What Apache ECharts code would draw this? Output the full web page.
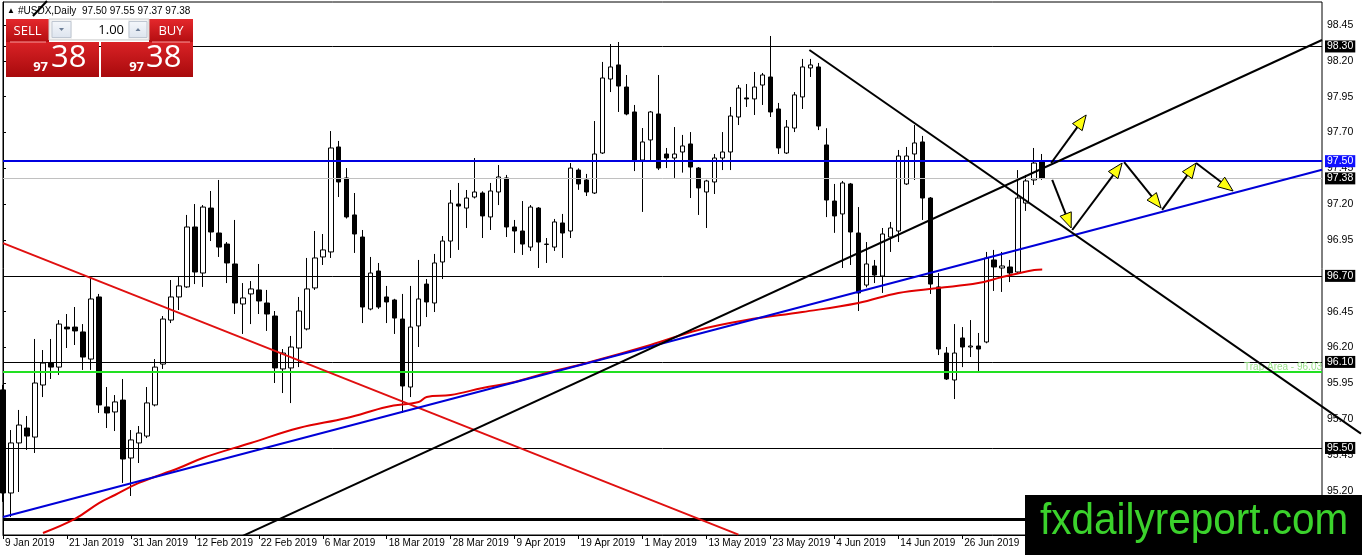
<!DOCTYPE html>
<html><head><meta charset="utf-8">
<script src="https://cdn.jsdelivr.net/npm/echarts@6/dist/echarts.min.js"></script>
<style>html,body{margin:0;padding:0;background:#fff;}#c{width:1362px;height:555px;}</style>
</head><body><div id="c"></div>
<script>
// ---------- DATA ----------
const symbolTitle = '#USDX,Daily  97.50 97.55 97.37 97.38';
const slotCount = 166; // bars + empty right shift
const monthNames = ['Jan','Feb','Mar','Apr','May','Jun','Jul','Aug','Sep','Oct','Nov','Dec'];
const dates = [];
(function(){ const d = new Date(Date.UTC(2019,0,9));
  while (dates.length < slotCount) { const wd = d.getUTCDay();
    if (wd !== 0 && wd !== 6) dates.push(d.getUTCDate()+' '+monthNames[d.getUTCMonth()]+' '+d.getUTCFullYear());
    d.setUTCDate(d.getUTCDate()+1); } })();

const opens = [95.905,95.186,95.535,95.639,95.576,95.939,96.092,96.064,96.343,96.343,96.309,96.120,96.553,95.786,95.751,95.834,95.430,95.535,95.583,95.800,
96.085,96.392,96.553,96.623,97.041,96.720,97.173,96.999,96.922,96.783,96.504,96.574,96.602,96.511,96.420,96.051,96.058,96.197,96.330,96.616,
96.832,96.867,97.599,97.383,97.125,96.971,96.469,96.734,96.553,96.532,96.399,95.925,96.351,96.643,96.511,96.797,96.943,97.201,97.173,97.250,
97.278,97.111,97.285,97.383,97.041,97.013,96.901,97.173,96.919,96.901,97.069,97.013,97.438,97.369,97.278,97.557,98.073,98.171,98.017,97.843,
97.508,97.648,97.829,97.550,97.522,97.564,97.620,97.452,97.285,97.355,97.522,97.564,97.808,97.941,97.934,98.031,98.087,97.864,97.557,97.731,
97.948,98.150,98.157,97.613,97.222,97.132,97.341,96.999,96.636,96.769,96.699,96.971,97.013,97.341,97.550,97.634,97.243,96.623,96.162,95.974,
96.267,96.204,96.211,96.239,96.811,96.755,96.762,96.727,97.208,97.369,97.50];
const closes = [95.186,95.535,95.660,95.583,95.953,96.092,96.064,96.364,96.330,96.316,96.134,96.539,95.800,95.744,95.821,95.423,95.556,95.604,95.814,96.064,
96.399,96.553,96.630,97.041,96.727,97.180,97.006,96.901,96.790,96.511,96.546,96.609,96.525,96.434,96.058,96.162,96.204,96.455,96.609,96.825,
96.881,97.592,97.355,97.111,96.992,96.483,96.720,96.483,96.518,96.406,95.932,96.343,96.539,96.518,96.790,96.943,97.208,97.187,97.243,97.285,
97.118,97.292,97.390,97.041,97.013,96.922,97.180,96.936,96.922,97.076,96.999,97.452,97.341,97.285,97.550,98.080,98.157,98.024,97.829,97.508,
97.634,97.843,97.452,97.522,97.550,97.606,97.459,97.313,97.362,97.522,97.564,97.815,98.010,97.934,98.017,98.101,97.843,97.592,97.738,97.962,
98.157,98.171,97.745,97.229,97.118,97.348,97.006,96.581,96.783,96.706,96.992,97.034,97.536,97.536,97.627,97.243,96.643,96.190,95.981,96.162,
96.204,96.211,96.190,96.825,96.762,96.769,96.720,97.243,97.362,97.487,97.38];
const lows = [95.124,95.018,95.193,95.486,95.465,95.855,95.981,96.009,96.197,96.218,96.044,96.044,95.744,95.639,95.618,95.256,95.165,95.395,95.569,95.790,
96.051,96.371,96.462,96.616,96.643,96.623,96.943,96.832,96.650,96.434,96.295,96.364,96.434,96.316,95.953,95.883,95.813,96.064,96.320,96.602,
96.776,96.825,97.250,97.100,96.860,96.371,96.460,96.470,96.371,96.295,95.744,95.855,96.204,96.413,96.448,96.678,96.825,96.881,97.034,97.240,
96.964,97.020,97.194,96.971,96.860,96.846,96.874,96.755,96.790,96.874,96.825,96.964,97.300,97.257,97.271,97.550,97.982,97.843,97.820,97.431,
97.146,97.508,97.438,97.452,97.383,97.420,97.243,97.125,97.034,97.271,97.438,97.438,97.752,97.878,97.822,97.892,97.808,97.550,97.550,97.703,
97.864,98.087,97.717,97.110,97.000,96.755,96.776,96.455,96.620,96.650,96.581,96.867,96.936,97.334,97.369,97.090,96.574,96.148,95.974,95.841,
96.064,96.134,96.023,96.230,96.595,96.588,96.657,96.720,97.153,97.334,97.37];
const highs = [95.940,95.625,95.765,95.723,96.260,96.183,96.260,96.392,96.434,96.483,96.364,96.685,96.574,95.925,95.869,95.981,95.625,95.653,95.925,96.120,
96.420,96.671,96.692,97.125,97.201,97.194,97.292,97.369,96.936,97.090,96.650,96.664,96.783,96.602,96.455,96.190,96.281,96.553,96.825,97.013,
96.992,97.710,97.641,97.452,97.278,97.020,96.832,96.790,96.630,96.540,96.574,96.630,96.811,96.678,96.853,96.978,97.299,97.348,97.299,97.522,
97.290,97.348,97.473,97.404,97.090,97.222,97.194,97.180,96.964,97.097,97.132,97.487,97.450,97.411,97.780,98.192,98.317,98.331,98.101,97.892,
97.731,97.850,98.101,97.592,97.738,97.683,97.703,97.459,97.370,97.550,97.703,97.878,98.031,98.038,98.122,98.115,98.373,97.906,97.787,97.982,
98.213,98.213,98.185,97.730,97.341,97.362,97.348,97.180,96.936,96.811,97.034,97.076,97.578,97.599,97.752,97.676,97.250,96.720,96.204,96.364,
96.343,96.392,96.302,96.867,96.881,96.867,96.811,97.438,97.404,97.592,97.55];

// moving average (red curve) read at bar indexes
const maIndex = [5,9,12,14,17,22,25,31,37,43,48,52,53,56,60,64,68,73,81,87,93,100,107,112,117,122,125,129,130];
const maValue = [94.907,95.005,95.116,95.172,95.256,95.360,95.430,95.535,95.639,95.709,95.786,95.821,95.855,95.869,95.918,95.960,96.023,96.092,96.218,96.323,96.392,96.448,96.511,96.581,96.615,96.650,96.692,96.741,96.745];

// horizontal levels
const levelValues = [98.30, 97.50, 97.38, 96.70, 96.10, 96.03, 95.50, 95.00];
const trapText = 'Trap Area - 96.03';

// trend lines [barIndex, price]
const blackUpLine = [[30, 94.887],[165, 98.345]];
const blueUpLine = [[0, 95.018],[165, 97.440]];
const redDownLine = [[0, 96.928],[92, 94.896]];
// lines that run past the plot frame: [fromBar, fromPrice, toBar, toPrice]
const freeLines = [
  [100.875, 98.275, 169.875, 95.600],
  [3.75, 98.512, 5.5, 98.617]
];

// projected path arrows [fromBar, fromPrice, toBar, toPrice]
const arrows = [
  [131.125, 97.487, 135.5, 97.822],
  [131.25, 97.369, 133.625, 97.034],
  [133.75, 97.020, 140.0, 97.487],
  [140.25, 97.494, 144.875, 97.173],
  [145.0, 97.160, 149.25, 97.487],
  [149.25, 97.487, 153.875, 97.292]
];

const priceTicks = [95.20,95.45,95.70,95.95,96.20,96.45,96.70,96.95,97.20,97.45,97.70,97.95,98.20,98.45];
const yMin = 94.893, yMax = 98.610;

// ---------- BUILD ----------
const candles = opens.map((o,i)=>[o, closes[i], lows[i], highs[i]]);
const maData = maIndex.map((x,i)=>[x, maValue[i]]);
const FONT = 'Liberation Sans';

const levelStyle = {
  '98.3': {color:'#000', width:1, bg:'#000'},
  '97.5': {color:'#0000e0', width:2, bg:'#1010ff'},
  '97.38':{color:'#c0c0c0', width:1, bg:'#000'},
  '96.7': {color:'#000', width:1, bg:'#000'},
  '96.1': {color:'#000', width:1, bg:'#000'},
  '96.03':{color:'#22e022', width:2, trap:true},
  '95.5': {color:'#000', width:1, bg:'#000'},
  '95':   {color:'#000', width:3, none:true}
};
const markData = levelValues.map(v=>{
  const s = levelStyle[String(v)];
  const item = {yAxis: v, lineStyle:{color:s.color, width:s.width, type:'solid'}};
  if (s.trap) item.label = {show:true, position:'insideEndTop', formatter:trapText, color:'#9ae38a', fontSize:10, fontFamily:FONT, distance:0};
  else if (s.none) item.label = {show:false};
  else item.label = {show:true, position:'end', formatter: v.toFixed(2), color:'#fff', backgroundColor:s.bg, padding:[1,2,0,2], fontSize:10.5, fontFamily:FONT, distance:3};
  return item;
});

function lineSeries(data, color, width){
  return {type:'line', xAxisIndex:1, data:data, showSymbol:false, symbol:'none', silent:true,
    lineStyle:{color:color, width:width}, z:6, animation:false};
}

const redGrad = {type:'linear', x:0, y:0, x2:0, y2:1, colorStops:[{offset:0,color:'#e5282c'},{offset:1,color:'#b30d10'}]};
const redGrad2 = {type:'linear', x:0, y:0, x2:0, y2:1, colorStops:[{offset:0,color:'#d92226'},{offset:1,color:'#a80a0c'}]};
const btnGrad = {type:'linear', x:0, y:0, x2:0, y2:1, colorStops:[{offset:0,color:'#f4f7fb'},{offset:1,color:'#dde4ee'}]};
const PF = 'Open Sans';

const graphics = [
  // header
  {type:'text', z:100, style:{x:7, y:11, text:'▲', font:'8px '+FONT, fill:'#000', verticalAlign:'middle'}},
  {type:'text', z:100, style:{x:18, y:11, text:symbolTitle, font:'10px '+FONT, fill:'#000', verticalAlign:'middle'}},
  // one-click panel
  {type:'rect', z:100, shape:{x:6, y:19, width:43, height:23}, style:{fill:redGrad}},
  {type:'rect', z:100, shape:{x:149, y:19, width:44, height:23}, style:{fill:redGrad}},
  {type:'rect', z:100, shape:{x:6, y:42, width:93, height:35}, style:{fill:redGrad2}},
  {type:'rect', z:100, shape:{x:101, y:42, width:92, height:35}, style:{fill:redGrad2}},
  {type:'line', z:101, shape:{x1:10, y1:42, x2:46, y2:42}, style:{stroke:'rgba(255,170,170,0.9)', lineWidth:1}},
  {type:'line', z:101, shape:{x1:152, y1:42, x2:190, y2:42}, style:{stroke:'rgba(255,170,170,0.9)', lineWidth:1}},
  {type:'text', z:101, style:{x:27.5, y:31, text:'SELL', font:'13px '+PF, fill:'#fff', align:'center', verticalAlign:'middle'}},
  {type:'text', z:101, style:{x:171, y:31, text:'BUY', font:'13px '+PF, fill:'#fff', align:'center', verticalAlign:'middle'}},
  {type:'rect', z:100, shape:{x:49, y:19, width:100, height:21}, style:{fill:'#f2f2f2', stroke:'#cfcfcf', lineWidth:1}},
  {type:'rect', z:101, shape:{x:52, y:21.5, width:19, height:16}, style:{fill:btnGrad, stroke:'#bfc7d2', lineWidth:1}},
  {type:'rect', z:101, shape:{x:72, y:20, width:56, height:19}, style:{fill:'#fff'}},
  {type:'rect', z:101, shape:{x:129, y:21.5, width:18, height:16}, style:{fill:btnGrad, stroke:'#bfc7d2', lineWidth:1}},
  {type:'polygon', z:102, shape:{points:[[59,28],[64,28],[61.5,31]]}, style:{fill:'#6d7f98'}},
  {type:'polygon', z:102, shape:{points:[[135.5,31],[140.5,31],[138,28]]}, style:{fill:'#6d7f98'}},
  {type:'text', z:102, style:{x:124, y:30, text:'1.00', font:'13px '+PF, fill:'#000', align:'right', verticalAlign:'middle'}},
  {type:'text', z:101, style:{x:48, y:67, text:'97', font:'bold 13px '+PF, fill:'#fff', align:'right', verticalAlign:'middle'}},
  {type:'text', z:101, style:{x:51, y:58, text:'38', font:'31px '+PF, fill:'#fff', align:'left', verticalAlign:'middle'}},
  {type:'text', z:101, style:{x:144, y:67, text:'97', font:'bold 13px '+PF, fill:'#fff', align:'right', verticalAlign:'middle'}},
  {type:'text', z:101, style:{x:146, y:58, text:'38', font:'31px '+PF, fill:'#fff', align:'left', verticalAlign:'middle'}},
  // watermark
  {type:'rect', z:100, shape:{x:1025, y:495, width:337, height:60}, style:{fill:'#000'}},
  {type:'text', z:101, x:1040, y:522, scaleX:0.92, style:{x:0, y:0, text:'fxdailyreport.com', font:'44px '+FONT, fill:'#3bd22c', verticalAlign:'middle'}}
];

const chart = echarts.init(document.getElementById('c'), null, {renderer:'canvas'});
chart.setOption({
  animation:false,
  backgroundColor:'#fff',
  grid:{left:3, right:40, top:2, bottom:20, show:true, borderColor:'#000', borderWidth:1, backgroundColor:'transparent'},
  xAxis:[
    {type:'category', data:dates, boundaryGap:false,
      axisLine:{show:true, lineStyle:{color:'#000', width:1}},
      axisTick:{show:true, interval:7, length:4, lineStyle:{color:'#000'}},
      axisLabel:{interval:7, align:'left', margin:3, padding:[0,0,0,2], color:'#000', fontSize:10, fontFamily:FONT},
      splitLine:{show:false}},
    {type:'value', min:0, max:165, show:false}
  ],
  yAxis:{type:'value', position:'right', min:yMin, max:yMax, scale:true,
    axisLine:{show:true, lineStyle:{color:'#000'}},
    axisTick:{show:true, length:3, customValues:priceTicks, lineStyle:{color:'#000'}},
    axisLabel:{customValues:priceTicks, formatter:v=>Number(v).toFixed(2), color:'#000', fontSize:10.5, fontFamily:FONT, margin:5},
    splitLine:{show:false}},
  graphic:graphics,
  series:[
    {type:'candlestick', xAxisIndex:0, data:candles, barWidth:5, silent:true, z:2,
      itemStyle:{color:'#fff', color0:'#000', borderColor:'#000', borderColor0:'#000', borderWidth:1},
      markLine:{silent:true, symbol:'none', animation:false, z:5, data:markData}},
    {type:'line', xAxisIndex:1, data:maData, smooth:0.4, showSymbol:false, symbol:'none', silent:true,
      lineStyle:{color:'#e00000', width:2}, z:5},
    lineSeries(redDownLine, '#e01010', 2),
    lineSeries(blueUpLine, '#0000d8', 2),
    lineSeries(blackUpLine, '#000', 2),
    {type:'custom', xAxisIndex:1, data:freeLines, silent:true, z:120, clip:false,
      dimensions:['x0','y0','x1','y1'], encode:{x:[0,2], y:[1,3]},
      renderItem:function(params, api){
        const a = api.coord([api.value(0), api.value(1)]);
        const b = api.coord([api.value(2), api.value(3)]);
        return {type:'line', shape:{x1:a[0], y1:a[1], x2:b[0], y2:b[1]}, style:{stroke:'#000', lineWidth:2}};
      }},
    {type:'custom', xAxisIndex:1, data:arrows, silent:true, z:8,
      dimensions:['x0','y0','x1','y1'], encode:{x:[0,2], y:[1,3]}, clip:false,
      renderItem:function(params, api){
        const a = api.coord([api.value(0), api.value(1)]);
        const b = api.coord([api.value(2), api.value(3)]);
        const dx=b[0]-a[0], dy=b[1]-a[1], len=Math.hypot(dx,dy), ux=dx/len, uy=dy/len;
        const hl=15, hw=6;
        const base=[b[0]-ux*hl, b[1]-uy*hl];
        const l=[base[0]-uy*hw, base[1]+ux*hw], r=[base[0]+uy*hw, base[1]-ux*hw];
        return {type:'group', children:[
          {type:'line', shape:{x1:a[0], y1:a[1], x2:base[0], y2:base[1]}, style:{stroke:'#000', lineWidth:2}},
          {type:'polygon', shape:{points:[b,l,r]}, style:{fill:'#ffff10', stroke:'#000', lineWidth:1}}
        ]};
      }}
  ]
});
</script></body></html>
